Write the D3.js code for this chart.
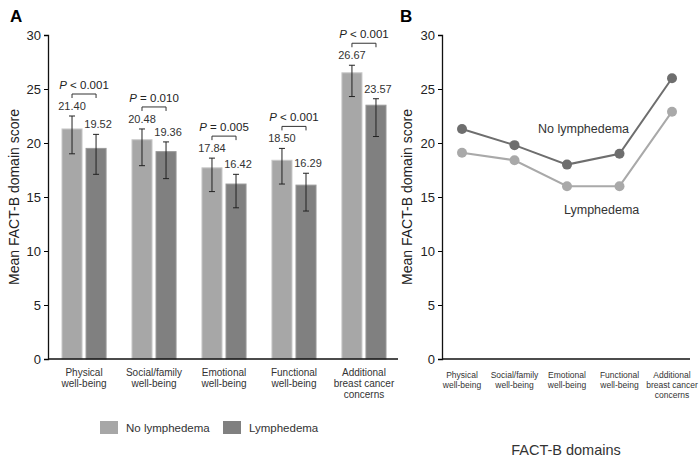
<!DOCTYPE html>
<html><head><meta charset="utf-8">
<script src="https://cdn.jsdelivr.net/npm/d3@7"></script>
<style>body{margin:0;background:#fff}text{font-family:"Liberation Sans",Arial,sans-serif}</style>
</head><body><svg id="c" width="700" height="460"></svg>
<script>
var domains = [["Physical","well-being"],["Social/family","well-being"],["Emotional","well-being"],["Functional","well-being"],["Additional","breast cancer","concerns"]];
var noLymph = [21.3, 20.3, 17.7, 18.4, 26.5];
var lymph = [19.5, 19.2, 16.2, 16.1, 23.5];
var noLymphLabel = ["21.40","20.48","17.84","18.50","26.67"];
var lymphLabel = ["19.52","19.36","16.42","16.29","23.57"];
var noLymphErr = [[19.0,22.5],[17.9,21.3],[15.5,18.6],[16.2,19.5],[24.3,27.2]];
var lymphErr = [[17.1,20.8],[16.7,20.1],[14.0,17.1],[13.7,17.2],[20.6,24.1]];
var pLabels = ["P < 0.001","P = 0.010","P = 0.005","P < 0.001","P < 0.001"];
var lineNo = [21.3, 19.8, 18.0, 19.0, 26.0];
var lineLy = [19.1, 18.4, 16.0, 16.0, 22.9];
var yTicks = [0,5,10,15,20,25,30];

var lightC = "#a7a7a7", darkC = "#808080";
var svg = d3.select("#c");
var y = d3.scaleLinear().domain([0,30]).range([359,35]);

// ---- Panel A
svg.append("text").attr("x",10).attr("y",22).attr("font-size",17).attr("font-weight","bold").text("A");
var xA = d3.scaleBand().domain(d3.range(5)).range([48,400]).paddingInner(0.37).paddingOuter(0.2);
var gA = svg.append("g");
var ax = svg.append("g").attr("transform","translate(48,0)").call(d3.axisLeft(y).tickValues(yTicks).tickSize(4));
ax.selectAll("text").attr("font-size",13).attr("fill","#222");
ax.select(".domain").attr("stroke","#111").attr("stroke-width",1.3);
svg.append("line").attr("x1",48).attr("x2",398).attr("y1",359).attr("y2",359).attr("stroke","#111").attr("stroke-width",1.3);
svg.append("text").attr("transform","translate(19,197) rotate(-90)").attr("text-anchor","middle").attr("font-size",14).attr("fill","#222").text("Mean FACT-B domain score");

var bw = xA.bandwidth()/2 - 2;
function errBar(cx, e){
  gA.append("line").attr("x1",cx).attr("x2",cx).attr("y1",y(e[0])).attr("y2",y(e[1])).attr("stroke","#222");
  [e[0],e[1]].forEach(function(v){gA.append("line").attr("x1",cx-3).attr("x2",cx+3).attr("y1",y(v)).attr("y2",y(v)).attr("stroke","#222");});
}
d3.range(5).forEach(function(i){
  var x0 = xA(i), x1 = xA(i)+bw+4;
  gA.append("rect").attr("x",x0).attr("y",y(noLymph[i])).attr("width",bw).attr("height",359-y(noLymph[i])).attr("fill",lightC).attr("stroke","#c8c8c8");
  gA.append("rect").attr("x",x1).attr("y",y(lymph[i])).attr("width",bw).attr("height",359-y(lymph[i])).attr("fill",darkC).attr("stroke","#999");
  errBar(x0+bw/2, noLymphErr[i]); errBar(x1+bw/2, lymphErr[i]);
  gA.append("text").attr("x",x0+bw/2).attr("y",y(noLymphErr[i][1])-6).attr("text-anchor","middle").attr("font-size",11).attr("fill","#333").text(noLymphLabel[i]);
  gA.append("text").attr("x",x1+bw/2+2).attr("y",y(lymphErr[i][1])-6).attr("text-anchor","middle").attr("font-size",11).attr("fill","#333").text(lymphLabel[i]);
  var top = y(noLymphErr[i][1]) - 22, cx0 = x0+bw/2, cx1 = x1+bw/2;
  gA.append("path").attr("d","M"+cx0+","+(top+4)+"V"+top+"H"+cx1+"V"+(top+4)).attr("fill","none").attr("stroke","#333");
  var pt = gA.append("text").attr("x",(cx0+cx1)/2).attr("y",top-5).attr("text-anchor","middle").attr("font-size",11.5).attr("fill","#222");
  pt.append("tspan").attr("font-style","italic").text("P");
  pt.append("tspan").text(pLabels[i].slice(1));
  var t = gA.append("text").attr("x",xA(i)+xA.bandwidth()/2).attr("y",376).attr("text-anchor","middle").attr("font-size",10).attr("fill","#333");
  domains[i].forEach(function(s,k){t.append("tspan").attr("x",xA(i)+xA.bandwidth()/2).attr("dy",k?11:0).text(s);});
});
// legend
[[lightC,"No lymphedema",100],[darkC,"Lymphedema",223]].forEach(function(l){
  svg.append("rect").attr("x",l[2]).attr("y",421).attr("width",18).attr("height",13).attr("fill",l[0]);
  svg.append("text").attr("x",l[2]+26).attr("y",432).attr("font-size",11.5).attr("fill","#333").text(l[1]);
});

// ---- Panel B
svg.append("text").attr("x",400).attr("y",22).attr("font-size",17).attr("font-weight","bold").text("B");
var xB = d3.scalePoint().domain(d3.range(5)).range([462,672]);
var bx = svg.append("g").attr("transform","translate(442,0)").call(d3.axisLeft(y).tickValues(yTicks).tickSize(4));
bx.selectAll("text").attr("font-size",13).attr("fill","#222");
bx.select(".domain").attr("stroke","#111").attr("stroke-width",1.3);
svg.append("line").attr("x1",442).attr("x2",690).attr("y1",359).attr("y2",359).attr("stroke","#111").attr("stroke-width",1.3);
svg.append("text").attr("transform","translate(412,197) rotate(-90)").attr("text-anchor","middle").attr("font-size",14).attr("fill","#222").text("Mean FACT-B domain score");
var line = d3.line().x(function(d,i){return xB(i);}).y(function(d){return y(d);});
[[lineLy,"#a9a9a9"],[lineNo,"#6e6e6e"]].forEach(function(s){
  svg.append("path").attr("d",line(s[0])).attr("fill","none").attr("stroke",s[1]).attr("stroke-width",2);
  svg.selectAll(null).data(s[0]).enter().append("circle").attr("cx",function(d,i){return xB(i);}).attr("cy",function(d){return y(d);}).attr("r",5).attr("fill",s[1]);
});
svg.append("text").attr("x",538).attr("y",133).attr("font-size",12.5).attr("fill","#333").text("No lymphedema");
svg.append("text").attr("x",564).attr("y",214).attr("font-size",12.5).attr("fill","#333").text("Lymphedema");
d3.range(5).forEach(function(i){
  var t = svg.append("text").attr("x",xB(i)).attr("y",378).attr("text-anchor","middle").attr("font-size",8.5).attr("fill","#333");
  domains[i].forEach(function(s,k){t.append("tspan").attr("x",xB(i)).attr("dy",k?10:0).text(s);});
});
svg.append("text").attr("x",566).attr("y",455).attr("text-anchor","middle").attr("font-size",14.5).attr("fill","#333").text("FACT-B domains");
</script></body></html>
